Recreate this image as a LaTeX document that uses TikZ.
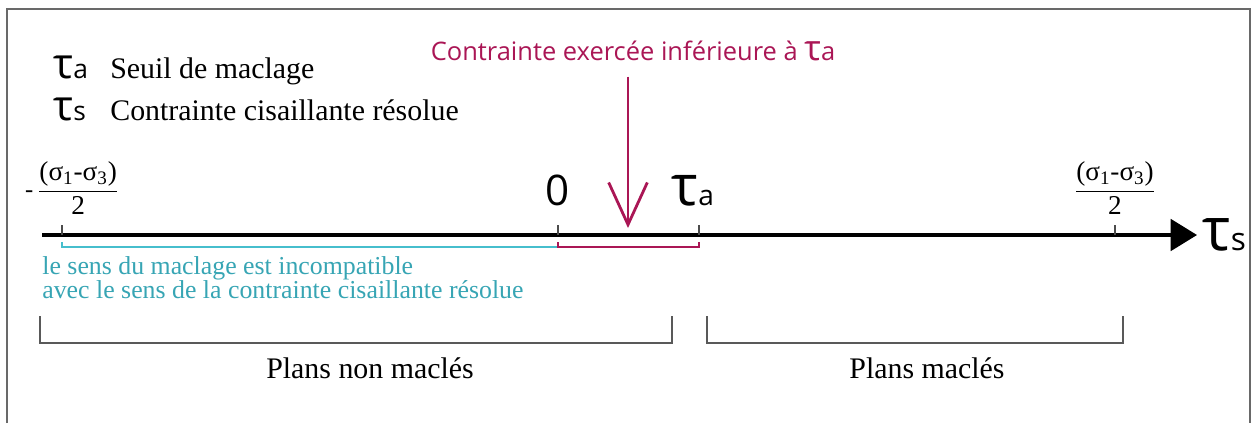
\documentclass[tikz,border=0pt]{standalone}
\usepackage{fontspec}
\setmainfont{Liberation Serif}
\newfontfamily\sansf{Open Sans}
\usetikzlibrary{arrows.meta,positioning}

\definecolor{crim}{RGB}{170,22,85}
\definecolor{turq}{RGB}{70,190,205}
\definecolor{turqtxt}{RGB}{55,165,180}
\definecolor{framegray}{RGB}{105,105,105}

% tau with a letter beside it: tau size, letter size, letter
\newcommand{\tausym}[3]{{\sansf\fontsize{#1}{#1}\selectfont τ\fontsize{#2}{#2}\selectfont #3}}
% (sigma1 - sigma3) / 2
\newcommand{\sigfrac}{{\fontsize{15.5pt}{17pt}\selectfont$\displaystyle\frac{\hbox{(σ\textsubscript{1}-σ\textsubscript{3})}}{\hbox{2}}$}}

\begin{document}
\begin{tikzpicture}[
  x=0.02cm, y=-0.02cm,
  legend/.style={anchor=base west, inner sep=0pt, font=\fontsize{17pt}{20pt}\selectfont},
  plan/.style={anchor=base, inner sep=0pt, font=\fontsize{17pt}{20pt}\selectfont},
  note/.style={anchor=base west, inner sep=0pt, turqtxt, font=\fontsize{14.7pt}{17pt}\selectfont},
  axis/.style={line width=1.8pt, -{Triangle[length=15pt,width=18pt]}},
  tickmark/.style={line width=0.6pt, black!70},
  brack/.style={line width=0.9pt, black!65},
  redarr/.style={crim, line width=1.6pt, -{Straight Barb[length=24pt,width=22pt,line width=1.6pt]}},
]
\useasboundingbox (0,0) rectangle (1253,423);
\draw[framegray, line width=1.2pt] (7,423) -- (7,9) -- (1250,9) -- (1250,423);

% legend
\node[legend] (taua) at (53,78) {\tausym{24pt}{15pt}{a}};
\node[legend] (seuil) at (110,78) {Seuil de maclage};
\node[legend] (taus) at (53,120) {\tausym{24pt}{15pt}{s}};
\node[legend] (cisa) at (110,120) {Contrainte cisaillante résolue};

% applied stress
\node[anchor=base, inner sep=0pt, crim, font=\sansf\fontsize{14.5pt}{17pt}\selectfont] (msg) at (633,60)
  {Contrainte exercée inférieure à {\fontsize{20pt}{20pt}\selectfont τ}a};

% axis and ticks
\coordinate (axL) at (42,235);
\coordinate (axR) at (1197,235);
\draw[axis] (axL) -- (axR);
\node[anchor=west, inner sep=0pt, xshift=3pt] (tauend) at (axR) {\tausym{34pt}{18pt}{s}};
\foreach \n/\x in {m/62, z/558, a/699, p/1115} {
  \coordinate (t\n) at (\x,235);
  \draw[tickmark] (t\n) -- ++(0,-10);
}
\node[anchor=base, inner sep=0pt, font=\sansf\fontsize{24pt}{24pt}\selectfont] (lz) at (558,205) {0};
\node[anchor=base, inner sep=0pt] (la) at (693,205) {\tausym{32pt}{16pt}{a}};
\node[inner sep=0pt] (fm) at (72,188) {{\fontsize{14pt}{16pt}\selectfont -\,}\sigfrac};
\node[inner sep=0pt] (fp) at (1115,188) {\sigfrac};

\coordinate (hit) at (628,228);
\draw[redarr, shorten <=9pt] (hit |- msg.south) -- (hit);

% spans under the axis
\coordinate (cL) at (62,247);
\coordinate (cM) at (558,247);
\coordinate (cR) at (699,247);
\draw[turq, line width=1.4pt] (cL) ++(0,-5) -- (cL) -- (cM);
\draw[crim, line width=1.4pt] (cM) ++(0,-5) -- (cM) -- (cR) -- ++(0,-5);
\node[note] (sens1) at (42,274) {le sens du maclage est incompatible};
\node[note] (sens2) at (42,298) {avec le sens de la contrainte cisaillante résolue};

% brackets
\coordinate (b1) at (40,343);
\coordinate (b2) at (672,343);
\coordinate (b3) at (707,343);
\coordinate (b4) at (1123,343);
\draw[brack] (b1) ++(0,-27) -- (b1) -- (b2) -- ++(0,-27);
\draw[brack] (b3) ++(0,-27) -- (b3) -- (b4) -- ++(0,-27);
\node[plan] (nonmacl) at (370,378) {Plans non maclés};
\node[plan] (macl) at (927,378) {Plans maclés};
\end{tikzpicture}
\end{document}
